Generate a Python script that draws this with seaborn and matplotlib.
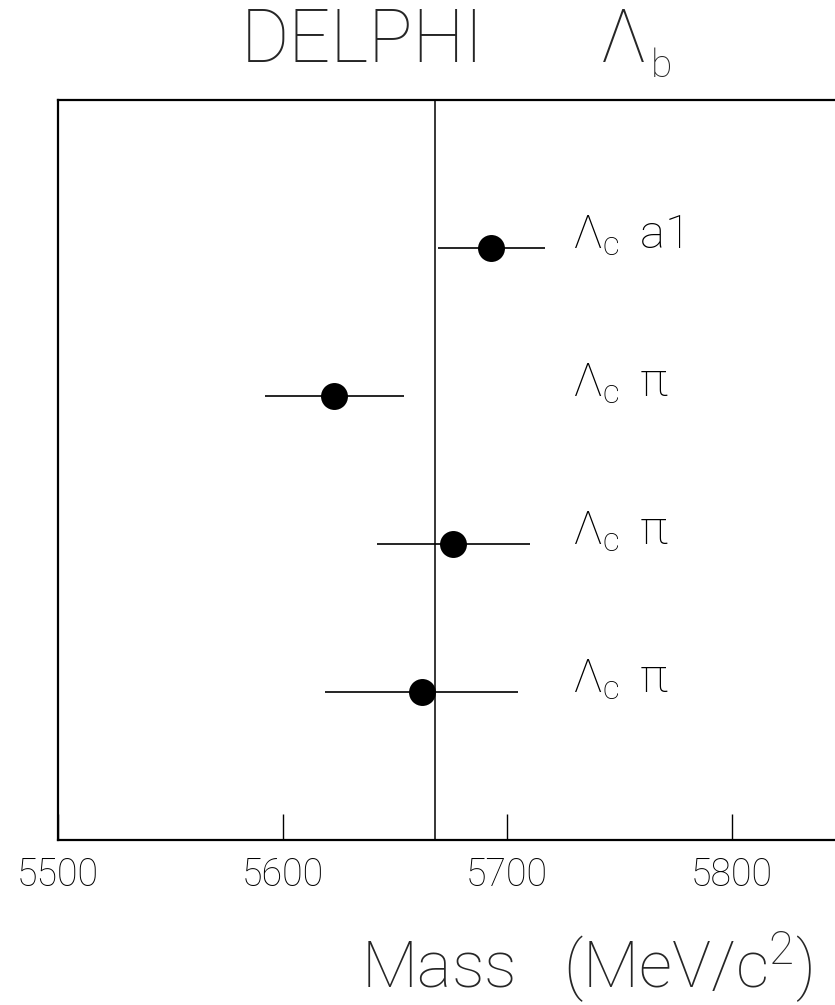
import matplotlib
matplotlib.use("Agg")
import matplotlib.pyplot as plt
import seaborn as sns
import pandas as pd

# ---- data ----
channels = [r"$\Lambda_c\,$ a1", r"$\Lambda_c\,$ $\pi$", r"$\Lambda_c\,$ $\pi$", r"$\Lambda_c\,$ $\pi$"]
masses = [5693, 5623, 5676, 5662]
errors = [24, 31, 34, 43]
row_pos = [4, 3, 2, 1]
ref_mass = 5668
xticks = [5500, 5600, 5700, 5800]
label_x = 5729

sns.set_theme(style="white")
FONT = "Roboto"
plt.rcParams["font.family"] = [FONT, "DejaVu Sans"]
plt.rcParams["font.weight"] = "light"
plt.rcParams["mathtext.fontset"] = "custom"
plt.rcParams["mathtext.rm"] = f"{FONT}:light"
plt.rcParams["mathtext.it"] = f"{FONT}:light"
plt.rcParams["mathtext.bf"] = f"{FONT}:light"

df = pd.DataFrame({"mass": masses, "err": errors, "pos": row_pos, "channel": channels})

fig = plt.figure(figsize=(8.35, 10.05), dpi=100)
W, H = 835, 1005
ax = fig.add_axes([58 / W, 1 - 840 / H, (844 - 58) / W, 740 / H])

ax.axvline(ref_mass, color="black", lw=1.1, zorder=1)
ax.errorbar(df["mass"], df["pos"], xerr=df["err"], fmt="none", ecolor="black",
            elinewidth=1.2, capsize=0, zorder=2)
sns.scatterplot(data=df, x="mass", y="pos", s=19.4 ** 2, color="black",
                edgecolor="black", linewidth=0, ax=ax, zorder=3, legend=False)

for m, y, lab in zip(masses, row_pos, channels):
    ax.text(label_x, y, lab, ha="left", va="baseline", fontsize=34,
            fontweight="light", color="black")

ax.set_xlim(5500, 5850)
ax.set_ylim(0, 5)
ax.set_xticks(xticks)
ax.set_xticklabels([str(t) for t in xticks])
ax.set_yticks([])
ax.set_xlabel("")
ax.set_ylabel("")
ax.tick_params(axis="x", direction="in", length=18.7, width=1.0, pad=12,
               labelsize=27, color="black", labelcolor="black", bottom=True)
for s in ax.spines.values():
    s.set_visible(True)
    s.set_color("black")
    s.set_linewidth(1.6)

# title
fig.text(241 / W, 1 - 62 / H, "DELPHI", fontsize=53, fontweight=100,
         ha="left", va="baseline")
fig.text(600 / W, 1 - 62 / H, "Λ", fontsize=53, fontweight=100,
         ha="left", va="baseline")
fig.text(651 / W, 1 - 77 / H, "b", fontsize=28, fontweight=100,
         ha="left", va="baseline")

# x label
fig.text(361 / W, 1 - 988 / H, "Mass   (MeV/c$^2$)", fontsize=47,
         fontweight=100, ha="left", va="baseline")

fig.savefig("out.png", dpi=100)
